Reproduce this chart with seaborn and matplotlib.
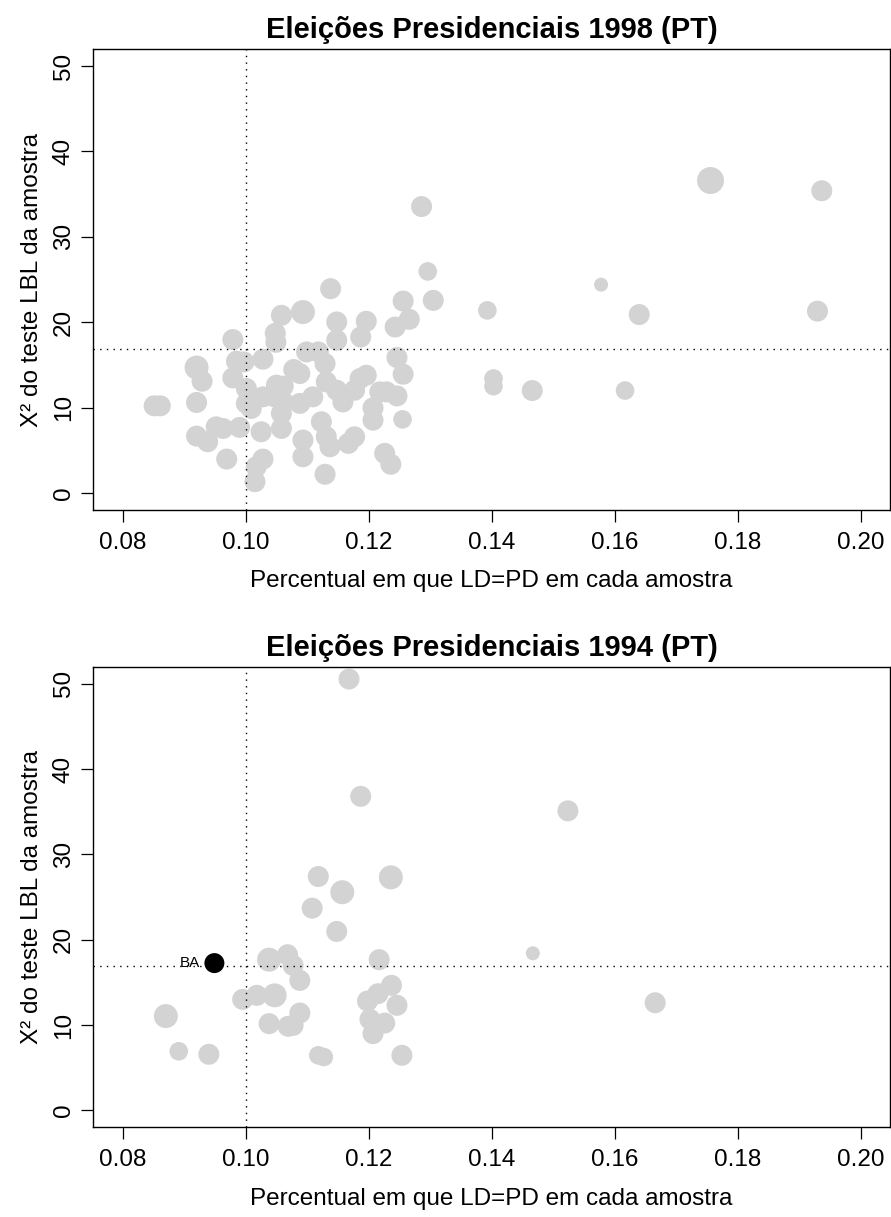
import matplotlib
matplotlib.use("Agg")
import matplotlib.pyplot as plt
import seaborn as sns
import pandas as pd

# ---------------- data ----------------
# 1998 panel
x_1998 = [0.1058, 0.1093, 0.0979, 0.1048, 0.1049, 0.0920, 0.0929, 0.0985, 0.0997, 0.1028,
          0.0979, 0.1001, 0.0920, 0.0851, 0.0861, 0.1078, 0.1088, 0.1050, 0.1061, 0.1028,
          0.1001, 0.1009, 0.1047, 0.1061, 0.1058, 0.1088, 0.0920, 0.0938, 0.0952, 0.0963,
          0.0990, 0.1025, 0.1058, 0.1093, 0.1093, 0.0969, 0.1028, 0.1017, 0.1015,
          0.1138, 0.1148, 0.1196, 0.1256, 0.1305, 0.1393, 0.1266, 0.1243, 0.1187, 0.1148,
          0.1099, 0.1118, 0.1129, 0.1246, 0.1256, 0.1403, 0.1403, 0.1131, 0.1109, 0.1148,
          0.1158, 0.1186, 0.1196, 0.1177, 0.1218, 0.1229, 0.1246, 0.1207, 0.1207, 0.1255,
          0.1123, 0.1131, 0.1137, 0.1167, 0.1177, 0.1226, 0.1236, 0.1129,
          0.1286, 0.1296, 0.1466, 0.1578, 0.1640, 0.1617, 0.1756, 0.1937, 0.1930]
y_1998 = [20.81, 21.19, 17.97, 18.70, 17.65, 14.69, 13.09, 15.43, 15.35, 15.67,
          13.48, 12.24, 10.60, 10.21, 10.21, 14.46, 13.99, 12.63, 12.51, 11.26,
          10.49, 9.90, 11.26, 10.67, 9.32, 10.49, 6.66, 6.00, 7.75, 7.56,
          7.68, 7.17, 7.56, 6.20, 4.24, 3.97, 3.97, 3.07, 1.32,
          23.93, 20.03, 20.11, 22.48, 22.56, 21.39, 20.34, 19.44, 18.27, 17.89,
          16.52, 16.52, 15.16, 15.86, 13.91, 13.41, 12.51, 13.01, 11.26, 12.04,
          10.67, 13.41, 13.79, 12.04, 11.84, 11.84, 11.37, 9.97, 8.53, 8.62,
          8.34, 6.58, 5.41, 5.81, 6.58, 4.64, 3.36, 2.19,
          33.55, 25.95, 12.00, 24.40, 20.90, 12.00, 36.60, 35.40, 21.30]
peso_1998 = [3, 4, 3, 3, 3, 4, 3, 3, 3, 3,
             3, 3, 3, 3, 3, 3, 3, 3, 3, 3,
             3, 3, 3, 3, 3, 3, 3, 3, 3, 3,
             3, 3, 3, 3, 3, 3, 3, 3, 3,
             3, 3, 3, 3, 3, 2, 3, 3, 3, 3,
             3, 3, 3, 3, 3, 2, 2, 3, 3, 3,
             3, 3, 3, 3, 3, 3, 3, 3, 3, 2,
             3, 3, 3, 3, 3, 3, 3, 3,
             3, 2, 3, 1, 3, 2, 5, 3, 3]

# 1994 panel
x_1994 = [0.1168, 0.1187, 0.1118, 0.1157, 0.1236, 0.1108, 0.1148, 0.1038, 0.1068, 0.1077,
          0.1088, 0.1217, 0.0995, 0.1018, 0.1047, 0.0870, 0.1088, 0.1038, 0.1069, 0.1077,
          0.1198, 0.1215, 0.1237, 0.1246, 0.1202, 0.1226, 0.1207, 0.0891, 0.0940, 0.1118,
          0.1127, 0.1254, 0.1467, 0.1524, 0.1666]
y_1994 = [50.55, 36.80, 27.40, 25.56, 27.30, 23.69, 20.96, 17.65, 18.23, 16.98,
          15.22, 17.65, 13.00, 13.47, 13.47, 11.04, 11.40, 10.15, 9.84, 9.95,
          12.80, 13.66, 14.64, 12.30, 10.66, 10.22, 8.98, 6.91, 6.56, 6.44,
          6.24, 6.44, 18.40, 35.10, 12.60]
peso_1994 = [3, 3, 3, 4, 4, 3, 3, 4, 3, 3,
             3, 3, 3, 3, 4, 4, 3, 3, 3, 3,
             3, 3, 3, 3, 3, 3, 3, 2, 3, 2,
             2, 3, 1, 3, 3]

destaque_x = [0.0949]
destaque_y = [17.25]
destaque_uf = ["BA"]

x_ticks = [0.08, 0.10, 0.12, 0.14, 0.16, 0.18, 0.20]
y_ticks = [0, 10, 20, 30, 40, 50]
titulos = ["Eleições Presidenciais 1998 (PT)", "Eleições Presidenciais 1994 (PT)"]
x_label = "Percentual em que LD=PD em cada amostra"
y_label = "X² do teste LBL da amostra"
ref_x = 0.10
ref_y = 16.92

# ---------------- style ----------------
sns.set_style("ticks")
plt.rcParams['font.family'] = ['Liberation Sans', 'DejaVu Sans']
plt.rcParams['text.color'] = 'black'
plt.rcParams['axes.labelcolor'] = 'black'
plt.rcParams['xtick.color'] = 'black'
plt.rcParams['ytick.color'] = 'black'


def area(r_px):
    return (2 * r_px * 72 / 100) ** 2


size_map = {1: area(7), 2: area(9.3), 3: area(10.5), 4: area(12), 5: area(13.5)}

fig = plt.figure(figsize=(8.91, 12.17), dpi=100)
ax1 = fig.add_axes([0.1047, 0.5809, 0.8942, 0.3788])
ax2 = fig.add_axes([0.1047, 0.0737, 0.8942, 0.3785])

df98 = pd.DataFrame({"x": x_1998, "y": y_1998, "peso": peso_1998})
df94 = pd.DataFrame({"x": x_1994, "y": y_1994, "peso": peso_1994})

for ax, df, titulo in [(ax1, df98, titulos[0]), (ax2, df94, titulos[1])]:
    sns.scatterplot(data=df, x="x", y="y", size="peso", sizes=size_map,
                    color="#D3D3D3", edgecolor="none", linewidth=0,
                    legend=False, ax=ax, zorder=2)
    ax.axhline(ref_y, color="black", lw=1.0, linestyle=(0, (1, 3.8)), zorder=3)
    ax.axvline(ref_x, color="black", lw=1.0, linestyle=(0, (1, 3.8)), zorder=3)
    ax.set_xlim(0.0752, 0.2048)
    ax.set_ylim(-2, 52)
    ax.set_xticks(x_ticks)
    ax.set_xticklabels([f"{v:.2f}" for v in x_ticks])
    ax.set_yticks(y_ticks)
    ax.set_yticklabels([str(v) for v in y_ticks], rotation=90, va="center")
    ax.tick_params(axis="both", length=8.6, width=0.9, colors="black",
                   labelcolor="black", labelsize=17.5)
    ax.tick_params(axis="x", pad=7)
    ax.tick_params(axis="y", pad=4.8)
    for sp in ax.spines.values():
        sp.set_visible(True)
        sp.set_linewidth(1.0)
        sp.set_color("black")
    ax.set_xlabel(x_label, fontsize=17.5, labelpad=12, color="black")
    ax.set_ylabel(y_label, fontsize=17.5, labelpad=7, color="black")
    ax.set_title(titulo, fontsize=21, fontweight="bold", pad=8, color="black")

ddf = pd.DataFrame({"x": destaque_x, "y": destaque_y})
sns.scatterplot(data=ddf, x="x", y="y", color="black", s=area(10), edgecolor="none",
                linewidth=0, legend=False, ax=ax2, zorder=4)
for xv, yv, uf in zip(destaque_x, destaque_y, destaque_uf):
    ax2.annotate(uf, (xv, yv), xytext=(-10.5, 0), textcoords="offset points",
                 ha="right", va="center", fontsize=11, color="black")

fig.savefig("out.png", dpi=100, facecolor="white")
